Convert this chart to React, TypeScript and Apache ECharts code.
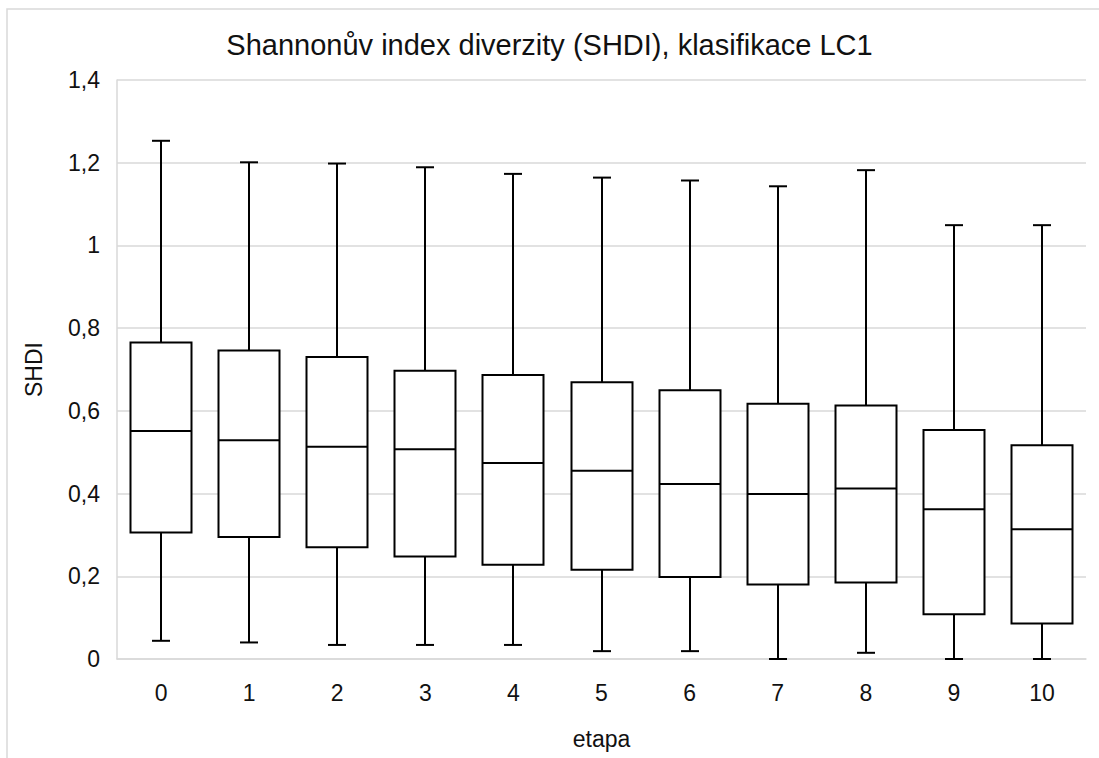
import React, { useEffect, useRef } from "react";
import * as echarts from "echarts";

// Etapy (kategorie na ose x)
const etapy = ["0", "1", "2", "3", "4", "5", "6", "7", "8", "9", "10"];

// Pětičíselné charakteristiky SHDI pro jednotlivé etapy
const minima = [0.044, 0.04, 0.034, 0.034, 0.034, 0.019, 0.019, 0.0, 0.015, 0.0, 0.0];
const kvartil1 = [0.306, 0.295, 0.27, 0.248, 0.228, 0.216, 0.198, 0.18, 0.185, 0.108, 0.086];
const mediany = [0.551, 0.529, 0.513, 0.507, 0.474, 0.455, 0.423, 0.399, 0.412, 0.362, 0.314];
const kvartil3 = [0.765, 0.746, 0.73, 0.697, 0.687, 0.669, 0.65, 0.617, 0.613, 0.554, 0.517];
const maxima = [1.253, 1.201, 1.198, 1.189, 1.173, 1.164, 1.157, 1.143, 1.182, 1.049, 1.049];

// Rozsah a krok osy y
const yMin = 0;
const yMax = 1.4;
const yKrok = 0.2;

const fontFamily = "'Liberation Sans', Arial, sans-serif";
const textColor = "#111";
const gridColor = "#d9d9d9";

export default function App() {
  const ref = useRef<HTMLDivElement>(null);

  useEffect(() => {
    if (!ref.current) return;
    const chart = echarts.init(ref.current, null, { renderer: "svg" });

    const data = etapy.map((_, i) => [i, minima[i], kvartil1[i], mediany[i], kvartil3[i], maxima[i]]);

    // Krabicový graf: krabice Q1–Q3, medián, vousy s krátkými příčkami
    const renderItem = (params: any, api: any) => {
      const idx = api.value(0);
      const pMin = api.coord([idx, api.value(1)]);
      const pQ1 = api.coord([idx, api.value(2)]);
      const pMed = api.coord([idx, api.value(3)]);
      const pQ3 = api.coord([idx, api.value(4)]);
      const pMax = api.coord([idx, api.value(5)]);
      const cx = Math.round(pMin[0]);
      const band = api.size([1, 0])[0];
      const bw = Math.round(band * 0.69);
      const cap = 18;
      const line = { stroke: "#000", lineWidth: 2 };
      return {
        type: "group",
        children: [
          { type: "line", shape: { x1: cx, y1: pMax[1], x2: cx, y2: pQ3[1] }, style: line },
          { type: "line", shape: { x1: cx, y1: pQ1[1], x2: cx, y2: pMin[1] }, style: line },
          { type: "line", shape: { x1: cx - cap / 2, y1: pMax[1], x2: cx + cap / 2, y2: pMax[1] }, style: line },
          { type: "line", shape: { x1: cx - cap / 2, y1: pMin[1], x2: cx + cap / 2, y2: pMin[1] }, style: line },
          {
            type: "rect",
            shape: { x: cx - bw / 2, y: pQ3[1], width: bw, height: pQ1[1] - pQ3[1] },
            style: { fill: "#fff", stroke: "#000", lineWidth: 2 },
          },
          { type: "line", shape: { x1: cx - bw / 2, y1: pMed[1], x2: cx + bw / 2, y2: pMed[1] }, style: line },
        ],
      };
    };

    chart.setOption({
      animation: false,
      backgroundColor: "#fff",
      textStyle: { fontFamily },
      title: {
        text: "Shannonův index diverzity (SHDI), klasifikace LC1",
        left: "center",
        top: 25,
        textStyle: { fontFamily, fontSize: 29, fontWeight: "normal", color: textColor },
      },
      graphic: [
        {
          type: "rect",
          shape: { x: 7, y: 9, width: 1200, height: 1000 },
          style: { fill: "none", stroke: gridColor, lineWidth: 1.5 },
          silent: true,
        },
      ],
      grid: { left: 117, top: 80, width: 969, height: 579 },
      xAxis: {
        type: "category",
        data: etapy,
        name: "etapa",
        nameLocation: "middle",
        nameGap: 68,
        nameTextStyle: { fontFamily, fontSize: 23, color: textColor },
        axisLine: { show: true, lineStyle: { color: gridColor, width: 1.5 } },
        axisTick: { show: false },
        axisLabel: { fontFamily, fontSize: 23, color: textColor, margin: 22 },
        splitLine: { show: false },
      },
      yAxis: {
        type: "value",
        min: yMin,
        max: yMax,
        interval: yKrok,
        name: "SHDI",
        nameLocation: "middle",
        nameGap: 72,
        nameTextStyle: { fontFamily, fontSize: 23, color: textColor },
        axisLine: { show: true, lineStyle: { color: gridColor, width: 1.5 } },
        axisTick: { show: false },
        axisLabel: {
          fontFamily,
          fontSize: 23,
          color: textColor,
          margin: 17,
          formatter: (v: number) => String(+v.toFixed(1)).replace(".", ","),
        },
        splitLine: { show: true, lineStyle: { color: gridColor, width: 1.5 } },
      },
      series: [
        {
          type: "custom",
          renderItem,
          encode: { x: 0, y: [1, 2, 3, 4, 5] },
          data,
          z: 3,
        },
      ],
    });

    return () => chart.dispose();
  }, []);

  return (
    <div
      ref={ref}
      style={{ position: "absolute", left: 0, top: 0, width: 1099, height: 758 }}
    />
  );
}
